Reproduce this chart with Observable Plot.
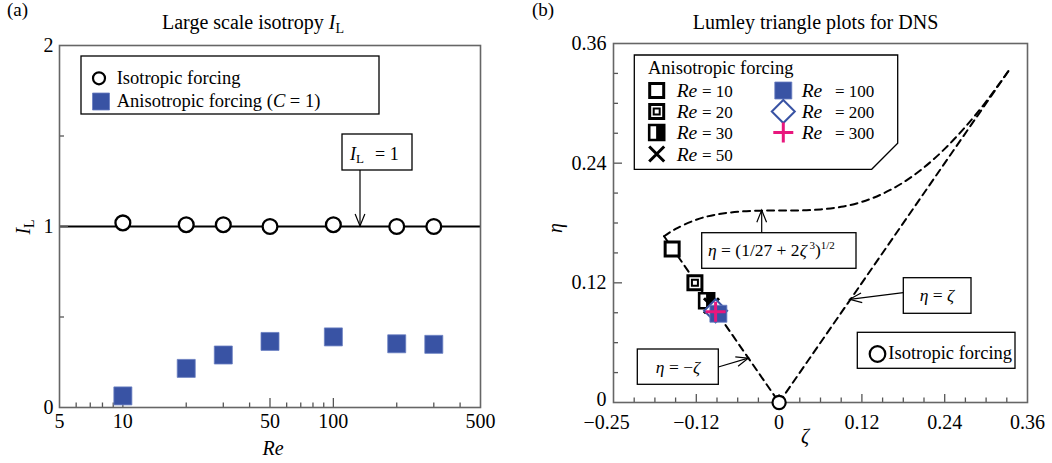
<!DOCTYPE html>
<html><head><meta charset="utf-8">
<script src="https://cdn.jsdelivr.net/npm/d3@7"></script>
<script src="https://cdn.jsdelivr.net/npm/@observablehq/plot@0.6"></script>
<style>
html,body{margin:0;padding:0;background:#fff;}
#wrap{position:relative;width:1052px;height:463px;overflow:hidden;background:#fff;}
#wrap svg{position:absolute;top:0;}
</style></head><body><div id="wrap"></div>
<script>
// ---------- data: panel (a) ----------
const reValues = [10, 20, 30, 50, 100, 200, 300];
const ilIsotropic = [1.02, 1.01, 1.01, 1.00, 1.01, 1.00, 1.00];
const ilAnisotropic = [0.064, 0.216, 0.29, 0.365, 0.39, 0.352, 0.349];
const ilReference = [1];
const reTickLabels = [5, 10, 50, 100, 500];
const reTicksMajor = [10, 50, 100];
const reTicksMinor = [6, 7, 8, 9, 20, 30, 40, 60, 70, 80, 90, 200, 300, 400];
const ilTickLabels = [0, 1, 2];
const ilTicksMajor = [1];
const ilTicksMinor = [0.5, 1.5];

// ---------- data: panel (b) ----------
const lumleyRe = [10, 20, 30, 50, 100, 200, 300];
const lumleyZeta = [-0.155, -0.122, -0.105, -0.098, -0.088, -0.092, -0.092];
const lumleyEta = [0.154, 0.120, 0.102, 0.097, 0.089, 0.092, 0.091];
const isoZeta = [0];
const isoEta = [0];
const leftEdgeZeta = [-0.1667, 0];
const leftEdgeEta = [0.1667, 0];
const rightEdgeZeta = [0, 0.3333];
const rightEdgeEta = [0, 0.3333];
const curveZeta = [-0.1667, -0.15, -0.12, -0.09, -0.06, -0.03, 0, 0.03, 0.06, 0.09, 0.12, 0.15, 0.18, 0.21, 0.24, 0.27, 0.30, 0.3333];
const curveEta = [0.1667, 0.1740, 0.1833, 0.1886, 0.1913, 0.1923, 0.1925, 0.1926, 0.1936, 0.1962, 0.2012, 0.2093, 0.2207, 0.2357, 0.2543, 0.2764, 0.3017, 0.3333];
const zetaTickPos = [-0.25, -0.12, 0, 0.12, 0.24, 0.36];
const zetaTickLabels = ["−0.25", "−0.12", "0", "0.12", "0.24", "0.36"];
const zetaTicksMajor = [-0.12, 0, 0.12, 0.24];
const zetaTicksMinor = [-0.21, -0.18, -0.15, -0.09, -0.06, -0.03, 0.03, 0.06, 0.09, 0.15, 0.18, 0.21, 0.27, 0.30, 0.33];
const etaZeroTick = [0];
const etaZeroLabel = ["0"];
const etaTickPos = [0.12, 0.24, 0.36];
const etaTickLabels = ["0.12", "0.24", "0.36"];
const etaTicksMajor = [0.12, 0.24];
const etaTicksMinor = [0.03, 0.06, 0.09, 0.15, 0.18, 0.21, 0.27, 0.30, 0.33];

// ---------- styles ----------
const FONT = "'Liberation Serif','Times New Roman',Times,serif";
const BLUE = "#3953a4";
const BLUE_EDGE = "#6a7fc2";
const PINK = "#e8177d";
const FRAME = "#666";

// custom symbols (pixel shapes)
const sq = s => ({draw(c){const h=s/2;c.moveTo(-h,-h);c.lineTo(h,-h);c.lineTo(h,h);c.lineTo(-h,h);c.closePath();}});
const halfRight = s => ({draw(c){const h=s/2;c.moveTo(0,-h);c.lineTo(h,-h);c.lineTo(h,h);c.lineTo(0,h);c.closePath();}});
const times = s => ({draw(c){const h=s/2;c.moveTo(-h,-h);c.lineTo(h,h);c.moveTo(h,-h);c.lineTo(-h,h);}});
const plus = s => ({draw(c){const h=s/2;c.moveTo(-h,0);c.lineTo(h,0);c.moveTo(0,-h);c.lineTo(0,h);}});
const diamond = s => ({draw(c){const h=s/2;c.moveTo(0,-h);c.lineTo(h,0);c.lineTo(0,h);c.lineTo(-h,0);c.closePath();}});

const wrap = document.getElementById("wrap");

// ================= PANEL (a) =================
const isoRows = reValues.map((re, i) => ({re, il: ilIsotropic[i]}));
const anisoRows = reValues.map((re, i) => ({re, il: ilAnisotropic[i]}));
const H = 463;
const W1 = 520, mL1 = 59, mR1 = 40, mT1 = 45, mB1 = 56;
const pw1 = W1 - mL1 - mR1, ph1 = H - mT1 - mB1;

const p1 = Plot.plot({
  width: W1, height: H,
  marginLeft: mL1, marginRight: mR1, marginTop: mT1, marginBottom: mB1,
  style: {fontFamily: FONT, fontSize: "20px", background: "transparent", overflow: "visible", color: "black"},
  x: {type: "log", domain: [5, 500]},
  y: {domain: [0, 2]},
  marks: [
    Plot.ruleY(ilReference, {stroke: "black", strokeWidth: 2}),
    Plot.tickX(reTicksMajor, {x: d => d, insetTop: ph1 - 9, stroke: "#555", strokeWidth: 1.3}),
    Plot.tickX(reTicksMinor, {x: d => d, insetTop: ph1 - 4.5, stroke: "#555", strokeWidth: 1.3}),
    Plot.tickY(ilTicksMajor, {y: d => d, insetRight: pw1 - 9, stroke: "#555", strokeWidth: 1.3}),
    Plot.tickY(ilTicksMinor, {y: d => d, insetRight: pw1 - 5, stroke: "#555", strokeWidth: 1.3}),
    Plot.frame({stroke: FRAME, strokeWidth: 1.6}),
    Plot.axisX({ticks: reTickLabels, tickFormat: d => String(d), tickSize: 0, tickPadding: 6, label: null}),
    Plot.axisY({ticks: ilTickLabels, tickFormat: d => String(d), tickSize: 0, tickPadding: 6, label: null}),
    Plot.dot(isoRows, {x: "re", y: "il", r: 7.4, fill: "white", stroke: "black", strokeWidth: 2.3}),
    Plot.dot(anisoRows, {x: "re", y: "il", symbol: sq(18), fill: BLUE, stroke: BLUE_EDGE, strokeWidth: 0.8})
  ]
});
p1.style.left = "0px";
wrap.appendChild(p1);

function mkScale(plot, name, log) {
  const s = plot.scale(name);
  if (s && typeof s.apply === "function") return v => s.apply(v);
  const sc = (log ? d3.scaleLog() : d3.scaleLinear()).domain(s.domain).range(s.range);
  return v => sc(v);
}
function T(g, x, y, html, o = {}) {
  return g.append("text").attr("x", x).attr("y", y)
    .attr("text-anchor", o.anchor || "start")
    .attr("font-size", o.size || 20)
    .attr("font-family", FONT).attr("fill", "black")
    .attr("transform", o.transform || null)
    .html(html);
}
function arrow(g, x1, y1, x2, y2, len = 13, ang = 22) {
  g.append("line").attr("x1", x1).attr("y1", y1).attr("x2", x2).attr("y2", y2)
    .attr("stroke", "black").attr("stroke-width", 1.2);
  const a = Math.atan2(y2 - y1, x2 - x1), t = ang * Math.PI / 180;
  const q1 = [x2 - len * Math.cos(a - t), y2 - len * Math.sin(a - t)];
  const q2 = [x2 - len * Math.cos(a + t), y2 - len * Math.sin(a + t)];
  g.append("path").attr("d", `M${q1[0]},${q1[1]}L${x2},${y2}L${q2[0]},${q2[1]}`)
    .attr("fill", "none").attr("stroke", "black").attr("stroke-width", 1.2);
}
function box(g, x, y, w, h) {
  g.append("rect").attr("x", x).attr("y", y).attr("width", w).attr("height", h)
    .attr("fill", "white").attr("stroke", "black").attr("stroke-width", 1.3);
}
function sym(g, s, x, y, fill, stroke, sw) {
  g.append("path").attr("d", d3.symbol(s)()).attr("transform", `translate(${x},${y})`)
    .attr("fill", fill).attr("stroke", stroke).attr("stroke-width", sw);
}

{
  const g = d3.select(p1).append("g");
  const sx = mkScale(p1, "x", true), sy = mkScale(p1, "y", false);
  T(g, 7, 16, "(a)", {size: 19});
  T(g, 253, 29, 'Large scale isotropy <tspan font-style="italic">I</tspan><tspan font-size="14" dy="4">L</tspan>', {anchor: "middle"});
  T(g, 273, 455, '<tspan font-style="italic">Re</tspan>', {anchor: "middle"});
  T(g, 0, 0, '<tspan font-style="italic">I</tspan><tspan font-size="14" dy="4">L</tspan>', {anchor: "middle", transform: "translate(30,227) rotate(-90)"});
  // legend
  box(g, 81, 56, 298, 58);
  g.append("circle").attr("cx", 99).attr("cy", 78.3).attr("r", 6).attr("fill", "white").attr("stroke", "black").attr("stroke-width", 2.2);
  sym(g, sq(17), 101, 101.5, BLUE, BLUE_EDGE, 0.8);
  T(g, 116.7, 83.5, "Isotropic forcing", {size: 18.5});
  T(g, 116.7, 107, 'Anisotropic forcing (<tspan font-style="italic">C</tspan> = 1)', {size: 18.5});
  // annotation I_L = 1
  box(g, 342, 134, 70, 36);
  T(g, 350, 160, '<tspan font-style="italic">I</tspan><tspan font-size="13" dy="3">L</tspan><tspan x="375" dy="-3">= 1</tspan>', {size: 18});
  arrow(g, 360, 170, 360, sy(1));
}

// ================= PANEL (b) =================
const lumRows = lumleyRe.map((re, i) => ({re, zeta: lumleyZeta[i], eta: lumleyEta[i]}));
const pick = re => lumRows.filter(d => d.re === re);
const isoRowsB = isoZeta.map((z, i) => ({zeta: z, eta: isoEta[i]}));
const leftEdge = leftEdgeZeta.map((z, i) => ({zeta: z, eta: leftEdgeEta[i]}));
const rightEdge = rightEdgeZeta.map((z, i) => ({zeta: z, eta: rightEdgeEta[i]}));
const curve = curveZeta.map((z, i) => ({zeta: z, eta: curveEta[i]}));
const W2 = 532, mL2 = 93, mR2 = 25, mT2 = 43, mB2 = 61;
const pw2 = W2 - mL2 - mR2, ph2 = H - mT2 - mB2;
const dash = {stroke: "black", strokeWidth: 2, strokeDasharray: "7,5"};

const p2 = Plot.plot({
  width: W2, height: H,
  marginLeft: mL2, marginRight: mR2, marginTop: mT2, marginBottom: mB2,
  style: {fontFamily: FONT, fontSize: "20px", background: "transparent", overflow: "visible", color: "black"},
  x: {domain: [-0.24, 0.36], axis: null},
  y: {domain: [0, 0.36], axis: null},
  marks: [
    Plot.tickX(zetaTicksMajor, {x: d => d, insetTop: ph2 - 8, stroke: "#555", strokeWidth: 1.3}),
    Plot.tickX(zetaTicksMinor, {x: d => d, insetTop: ph2 - 4.5, stroke: "#555", strokeWidth: 1.3}),
    Plot.tickY(etaTicksMajor, {y: d => d, insetRight: pw2 - 9, stroke: "#555", strokeWidth: 1.3}),
    Plot.tickY(etaTicksMinor, {y: d => d, insetRight: pw2 - 5, stroke: "#555", strokeWidth: 1.3}),
    Plot.frame({stroke: FRAME, strokeWidth: 1.6}),
    Plot.text(zetaTickPos, {x: d => d, frameAnchor: "bottom", text: (d, i) => zetaTickLabels[i], lineAnchor: "top", dy: 12, fontSize: 20}),
    Plot.text(etaTickPos, {y: d => d, frameAnchor: "left", text: (d, i) => etaTickLabels[i], textAnchor: "end", dx: -7, fontSize: 20}),
    Plot.text(etaZeroTick, {y: d => d, frameAnchor: "left", text: (d, i) => etaZeroLabel[i], textAnchor: "end", dx: -7, dy: -2.5, fontSize: 20}),
    Plot.line(leftEdge, {x: "zeta", y: "eta", ...dash}),
    Plot.line(rightEdge, {x: "zeta", y: "eta", ...dash}),
    Plot.line(curve, {x: "zeta", y: "eta", curve: "natural", ...dash}),
    Plot.dot(isoRowsB, {x: "zeta", y: "eta", r: 6.6, fill: "white", stroke: "black", strokeWidth: 2.2}),
    Plot.dot(pick(10), {x: "zeta", y: "eta", symbol: sq(14), fill: "white", stroke: "black", strokeWidth: 3}),
    Plot.dot(pick(20), {x: "zeta", y: "eta", symbol: sq(14), fill: "white", stroke: "black", strokeWidth: 3}),
    Plot.dot(pick(20), {x: "zeta", y: "eta", symbol: sq(6), fill: "white", stroke: "black", strokeWidth: 2}),
    Plot.dot(pick(30), {x: "zeta", y: "eta", symbol: sq(15), fill: "white", stroke: "black", strokeWidth: 2.6}),
    Plot.dot(pick(30), {x: "zeta", y: "eta", symbol: halfRight(15), fill: "black", stroke: "black", strokeWidth: 1}),
    Plot.dot(pick(50), {x: "zeta", y: "eta", symbol: times(15), fill: "none", stroke: "black", strokeWidth: 3}),
    Plot.dot(pick(200), {x: "zeta", y: "eta", symbol: diamond(23), fill: "white", stroke: BLUE, strokeWidth: 2}),
    Plot.dot(pick(100), {x: "zeta", y: "eta", symbol: sq(17), fill: BLUE, stroke: BLUE_EDGE, strokeWidth: 0.8}),
    Plot.dot(pick(300), {x: "zeta", y: "eta", symbol: plus(20), fill: "none", stroke: PINK, strokeWidth: 3})
  ]
});
p2.style.left = "520px";
wrap.appendChild(p2);

{
  const g = d3.select(p2).append("g");
  const sx = mkScale(p2, "x", false), sy = mkScale(p2, "y", false);
  T(g, 12, 16, "(b)", {size: 19});
  T(g, 295.5, 29, "Lumley triangle plots for DNS", {anchor: "middle"});
  T(g, 285, 443, '<tspan font-style="italic">ζ</tspan>', {anchor: "middle"});
  T(g, 0, 0, '<tspan font-style="italic">η</tspan>', {anchor: "middle", transform: "translate(42,228) rotate(-90)"});

  // legend with chamfered corner
  g.append("path").attr("d", "M114.3,55H377.7V143.3L351.7,169.3H114.3Z")
    .attr("fill", "white").attr("stroke", "black").attr("stroke-width", 1.3);
  T(g, 128, 74, "Anisotropic forcing", {size: 18.5});
  const lx = 136.7, rx = 263.3;
  const rows = [90.5, 111.5, 132.5, 154];
  sym(g, sq(14), lx, rows[0], "white", "black", 3);
  sym(g, sq(14), lx, rows[1], "white", "black", 3);
  sym(g, sq(6), lx, rows[1], "white", "black", 2);
  sym(g, sq(15), lx, rows[2], "white", "black", 2.6);
  sym(g, halfRight(15), lx, rows[2], "black", "black", 1);
  sym(g, times(15), lx, rows[3], "none", "black", 3);
  sym(g, sq(17), rx, rows[0], BLUE, BLUE_EDGE, 0.8);
  sym(g, diamond(23), rx, rows[1], "white", BLUE, 2);
  sym(g, plus(20), rx, rows[2], "none", PINK, 3);
  const leftLabels = ["10", "20", "30", "50"], rightLabels = ["100", "200", "300"];
  leftLabels.forEach((t, i) => {
    T(g, 156.7, rows[i] + 6.5, '<tspan font-style="italic">Re</tspan>', {size: 19.5});
    T(g, 182, rows[i] + 6.5, "= " + t, {size: 17});
  });
  rightLabels.forEach((t, i) => {
    T(g, 281.7, rows[i] + 6.5, '<tspan font-style="italic">Re</tspan>', {size: 19.5});
    T(g, 315, rows[i] + 6.5, "= " + t, {size: 17});
  });

  // curve annotation
  box(g, 181.7, 232.7, 154.3, 35.6);
  T(g, 188, 256, '<tspan font-style="italic">η</tspan> = (1/27 + 2<tspan font-style="italic">ζ</tspan><tspan font-size="11" dy="-7"> 3</tspan><tspan dy="7">)</tspan><tspan font-size="11" dy="-7">1/2</tspan>', {size: 17.5});
  arrow(g, 241.7, 232.7, sx(-0.0245), sy(0.1924));

  // eta = zeta
  box(g, 383.3, 277.7, 67.7, 35.6);
  T(g, 417, 301, '<tspan font-style="italic">η</tspan> = <tspan font-style="italic">ζ</tspan>', {anchor: "middle", size: 17.5});
  arrow(g, 383.3, 292.7, sx(0.103), sy(0.103));

  // eta = -zeta
  box(g, 117.3, 349, 81, 35.3);
  T(g, 158, 373, '<tspan font-style="italic">η</tspan> = −<tspan font-style="italic">ζ</tspan>', {anchor: "middle", size: 17.5});
  arrow(g, 198.3, 367, sx(-0.044), sy(0.044));

  // isotropic forcing
  box(g, 337.3, 332.3, 157.7, 36);
  g.append("circle").attr("cx", 357.5).attr("cy", 354).attr("r", 7.8).attr("fill", "white").attr("stroke", "black").attr("stroke-width", 2.2);
  T(g, 368.3, 359, "Isotropic forcing", {size: 18.5});
}
</script></body></html>
